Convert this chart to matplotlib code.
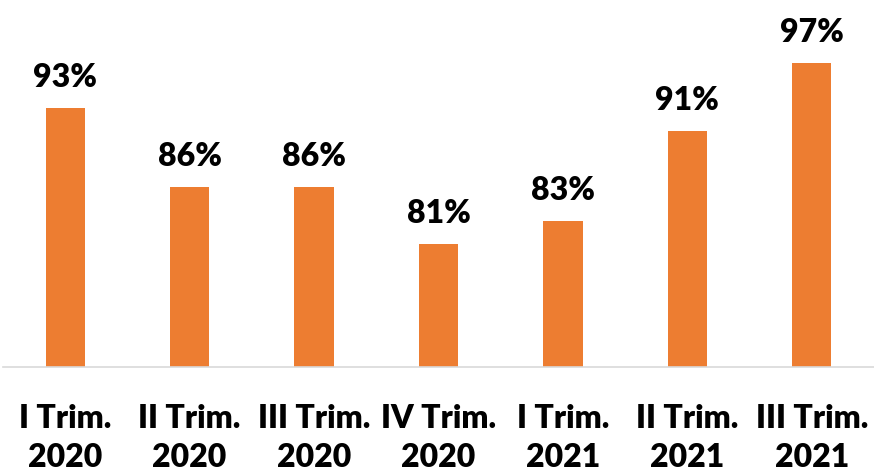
import matplotlib
matplotlib.use("Agg")
import matplotlib.pyplot as plt

# Quarterly percentages
QUARTERS = ["I Trim.\n2020", "II Trim.\n2020", "III Trim.\n2020", "IV Trim.\n2020",
            "I Trim.\n2021", "II Trim.\n2021", "III Trim.\n2021"]
VALUES = [93, 86, 86, 81, 83, 91, 97]

BAR_COLOR = "#ED7D31"
AXIS_COLOR = "#D9D9D9"

plt.rcParams["font.family"] = ["Lato", "DejaVu Sans"]


def main() -> None:
    fig = plt.figure(figsize=(8.74, 4.75), dpi=100)
    ax = fig.add_axes([0.0034, 0.228, 0.9966, 0.772])

    x = range(len(VALUES))
    bars = ax.bar(x, VALUES, width=0.315, color=BAR_COLOR, zorder=2)

    for rect, v in zip(bars, VALUES):
        ax.annotate(f"{v}%", (rect.get_x() + rect.get_width() / 2, v),
                    xytext=(0, 15), textcoords="offset points",
                    ha="center", va="baseline", fontsize=23, fontweight="heavy")

    ax.set_xlim(-0.5, len(VALUES) - 0.5)
    ax.set_ylim(70.1, 102.6)
    ax.set_xticks(list(x))
    ax.set_xticklabels(QUARTERS, fontsize=23, fontweight="heavy", linespacing=1.4)
    ax.tick_params(axis="x", length=0, pad=27)
    ax.set_yticks([])

    for side in ("top", "left", "right"):
        ax.spines[side].set_visible(False)
    ax.spines["bottom"].set_color(AXIS_COLOR)
    ax.spines["bottom"].set_linewidth(1.2)

    fig.savefig("out.png", dpi=100, facecolor="white")
    plt.close(fig)


if __name__ == "__main__":
    main()
